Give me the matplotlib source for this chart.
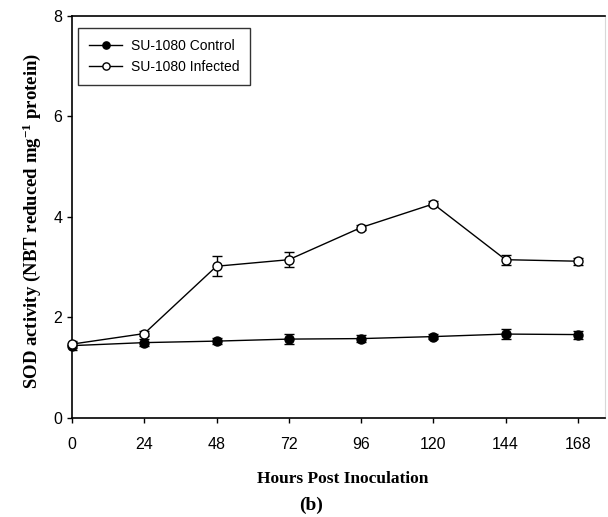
import matplotlib
matplotlib.use('Agg')
import matplotlib.pyplot as plt

hours = [0, 24, 48, 72, 96, 120, 144, 168]
control = [1.44, 1.50, 1.53, 1.57, 1.58, 1.62, 1.67, 1.66]
control_err = [0.08, 0.07, 0.06, 0.10, 0.07, 0.05, 0.10, 0.08]
infected = [1.47, 1.68, 3.02, 3.15, 3.79, 4.26, 3.15, 3.12]
infected_err = [0.07, 0.05, 0.20, 0.15, 0.05, 0.05, 0.10, 0.07]

plt.rcParams['font.family'] = ['Liberation Sans', 'DejaVu Sans']
plt.rcParams['mathtext.fontset'] = 'custom'
plt.rcParams['mathtext.bf'] = 'Liberation Serif:bold'
plt.rcParams['mathtext.rm'] = 'Liberation Serif:bold'
plt.rcParams['mathtext.default'] = 'bf'

fig = plt.figure(figsize=(6.08, 5.17), dpi=100)
ax = fig.add_axes([0.1184, 0.1915, 0.8766, 0.7776])

# error bars first, then lines with markers on top
ax.errorbar(hours, control, yerr=control_err, fmt='none', ecolor='black',
            elinewidth=1, capsize=3.5, capthick=1, zorder=2)
ax.errorbar(hours, infected, yerr=infected_err, fmt='none', ecolor='black',
            elinewidth=1, capsize=3.5, capthick=1, zorder=2)
ax.plot(hours, control, color='black', marker='o', markersize=6.5,
        markerfacecolor='black', markeredgecolor='black', linewidth=1,
        label='SU-1080 Control', zorder=3, clip_on=False)
ax.plot(hours, infected, color='black', marker='o', markersize=6.5,
        markerfacecolor='white', markeredgecolor='black', linewidth=1,
        label='SU-1080 Infected', zorder=4, clip_on=False)

ax.set_xlim(0, 177)
ax.set_ylim(0, 8)
ax.set_xticks(hours)
ax.set_yticks([0, 2, 4, 6, 8])
ax.tick_params(direction='out', length=3.6, width=1, labelsize=11.5)
ax.tick_params(axis='x', pad=10)
ax.tick_params(axis='y', pad=3.5)

for side in ['left', 'bottom', 'top']:
    ax.spines[side].set_linewidth(1.2)
ax.spines['right'].set_color('#d8d8d8')

ax.set_ylabel('SOD activity (NBT reduced mg$^{\\mathbf{-1}}$ protein)',
              family='Liberation Serif', fontweight='bold', fontsize=13.5)
ax.yaxis.set_label_coords(-0.054, 0.49)
ax.set_xlabel('Hours Post Inoculation', family='Liberation Serif',
              fontweight='bold', fontsize=12.5)
ax.xaxis.set_label_coords(0.508, -0.133)

fig.text(0.511, 1 - 505 / 517, '(b)', family='Liberation Serif', fontweight='bold',
         fontsize=14, ha='center', va='center')

leg = ax.legend(loc='upper left', bbox_to_anchor=(0.011, 0.970),
                borderaxespad=0, fontsize=10, frameon=True, fancybox=False,
                edgecolor='black', borderpad=0.8, handlelength=2.4,
                handletextpad=0.6, markerscale=0.8)
leg.get_frame().set_linewidth(1)

fig.savefig('out.png', dpi=100)
